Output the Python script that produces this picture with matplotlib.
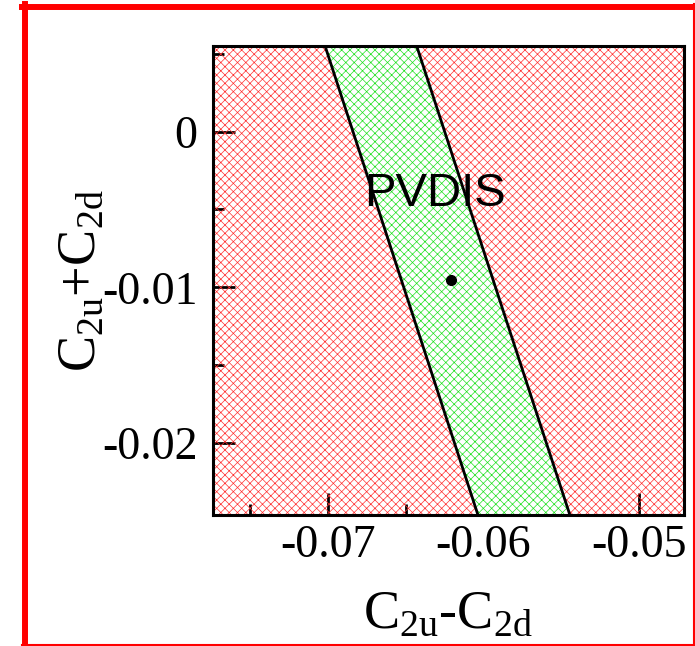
import numpy as np
import matplotlib
matplotlib.use("Agg")
import matplotlib.pyplot as plt
from matplotlib.lines import Line2D

plt.rcParams['font.family'] = ['Liberation Serif', 'DejaVu Serif']
plt.rcParams['mathtext.fontset'] = 'custom'
plt.rcParams['mathtext.rm'] = 'Liberation Serif'
plt.rcParams['axes.unicode_minus'] = False
plt.rcParams['hatch.linewidth'] = 0.5

# data
xlim = (-0.07736, -0.04713)
ylim = (-0.02462, 0.0055)
band_y = [0.006, -0.025]            # band edges, top and bottom
band_left = [-0.07033, -0.06023]
band_right = [-0.06445, -0.05433]
best_x, best_y = -0.0621, -0.00952  # central value
xticks = [-0.07, -0.06, -0.05]
xticklabels = ['-0.07', '-0.06', '-0.05']
xminor = [-0.075, -0.065, -0.055]
yticks = [0.0, -0.01, -0.02]
yticklabels = ['0', '-0.01', '-0.02']
yminor = [0.005, -0.005, -0.015]

fig = plt.figure(figsize=(6.95, 6.46), dpi=100)
ax = fig.add_axes([213/695, 1 - 515/646, 471/695, 469/646])
ax.set_axisbelow(True)

# red excluded region everywhere
ax.fill_between([xlim[0] - 0.01, xlim[1] + 0.01], ylim[0] - 0.01, ylim[1] + 0.01,
                facecolor='none', edgecolor='#ff3030', hatch='xxxx', linewidth=0, zorder=1)
# green allowed band
ax.fill_betweenx(band_y, band_left, band_right, facecolor='white',
                 edgecolor='#20e020', hatch='xxxx', linewidth=0, zorder=1.5)
ax.plot(band_left, band_y, color='black', lw=2, zorder=2)
ax.plot(band_right, band_y, color='black', lw=2, zorder=2)
ax.plot([best_x], [best_y], 'o', color='black', ms=7, zorder=3)
ax.text(-0.06313, -0.0040, 'PVDIS', family='Liberation Sans', fontsize=34,
        ha='center', va='center', zorder=3)

ax.set_xlim(xlim)
ax.set_ylim(ylim)
ax.set_xticks(xticks)
ax.set_xticklabels(xticklabels)
ax.set_xticks(xminor, minor=True)
ax.set_yticks(yticks)
ax.set_yticklabels(yticklabels)
ax.set_yticks(yminor, minor=True)
ax.tick_params(which='both', direction='in', width=2, top=False, right=False,
               labelsize=33)
ax.tick_params(which='major', length=16)
ax.tick_params(which='minor', length=8)
ax.tick_params(axis='x', pad=7)
ax.tick_params(axis='y', pad=11)
for s in ax.spines.values():
    s.set_linewidth(2.2)

ax.set_xlabel(r'C$_{\mathregular{2u}}$-C$_{\mathregular{2d}}$', fontsize=39)
ax.set_ylabel(r'C$_{\mathregular{2u}}$+C$_{\mathregular{2d}}$', fontsize=39)
ax.xaxis.set_label_coords(0.5, -0.16)
ax.yaxis.set_label_coords(-0.225, 0.5)

# red frame round the figure
W, H = 695, 646
fig.add_artist(Line2D([25/W, 25/W], [1 - 4/H, 1 - 646/H], color='red', lw=4.3))
fig.add_artist(Line2D([22/W, 695/W], [1 - 7/H, 1 - 7/H], color='red', lw=4.3))
fig.add_artist(Line2D([693.5/W, 693.5/W], [1 - 4/H, 1 - 646/H], color='red', lw=1.5))
fig.add_artist(Line2D([22/W, 695/W], [1 - 644.5/H, 1 - 644.5/H], color='red', lw=1.5))

fig.savefig('out.png', dpi=100)
